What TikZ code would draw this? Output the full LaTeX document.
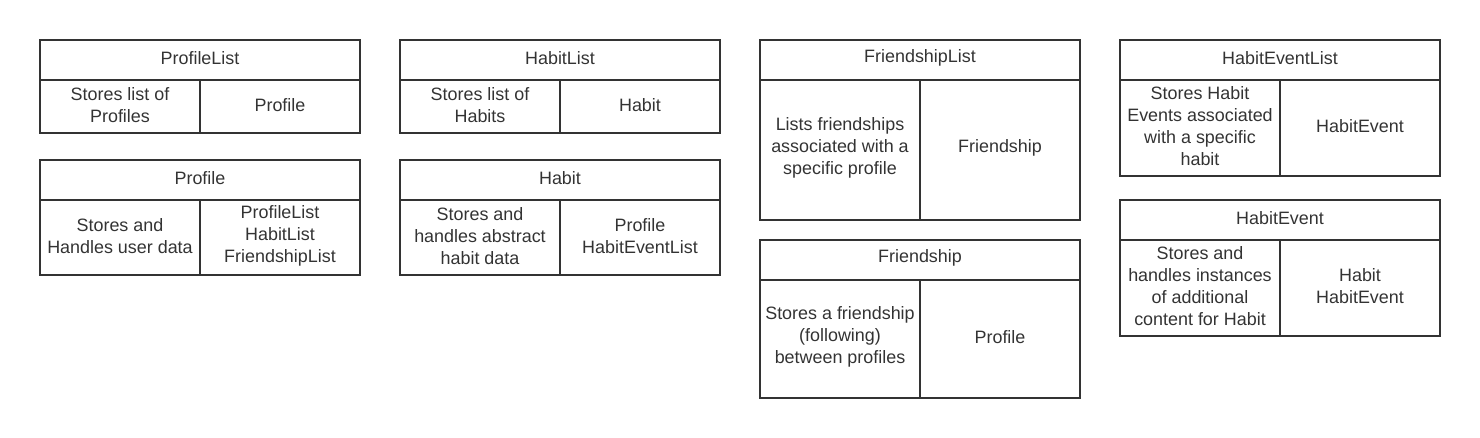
\documentclass[tikz,border=0pt]{standalone}
\usepackage{fontspec}
\setmainfont{Liberation Sans}
\usetikzlibrary{positioning}
\definecolor{ink}{HTML}{333333}

% one CRC card: name, left x, top y, header bottom y, bottom y, title, left cell, right cell
\newcommand{\crccard}[8]{%
  \draw[card] (#2,#3) rectangle ({#2+320},#5);
  \draw[card] (#2,#4) -- ({#2+320},#4);
  \draw[card] ({#2+160},#4) -- ({#2+160},#5);
  \node[title] (#1-title) at ({#2+160},{(#3+#4)/2}) {#6};
  \node[cell] (#1-resp) at ({#2+80},{(#4+#5)/2}) {#7};
  \node[cell] (#1-collab) at ({#2+240},{(#4+#5)/2}) {#8};
}

\begin{document}
\begin{tikzpicture}[
  x=0.02cm,y=-0.02cm,
  font=\fontsize{10.2}{12.5}\selectfont,
  card/.style={draw=ink,line width=1.1pt},
  title/.style={text=ink,inner sep=0pt,yshift=1pt},
  cell/.style={text=ink,align=center,inner sep=0pt,yshift=1pt}]
\path[use as bounding box] (0,0) rectangle (1480,438);
\crccard{profilelist}{40}{40}{80}{133}{ProfileList}
  {Stores list of\\Profiles}{Profile}
\crccard{profile}{40}{160}{200}{275}{Profile}
  {Stores and\\Handles user data}{ProfileList\\HabitList\\FriendshipList}
\crccard{habitlist}{400}{40}{80}{133}{HabitList}
  {Stores list of\\Habits}{Habit}
\crccard{habit}{400}{160}{200}{275}{Habit}
  {Stores and\\handles abstract\\habit data}{Profile\\HabitEventList}
\crccard{friendshiplist}{760}{40}{80}{220}{FriendshipList}
  {Lists friendships\\associated with a\\specific profile}{Friendship}
\crccard{friendship}{760}{240}{280}{398}{Friendship}
  {Stores a friendship\\(following)\\between profiles}{Profile}
\crccard{habiteventlist}{1120}{40}{80}{176}{HabitEventList}
  {Stores Habit\\Events associated\\with a specific\\habit}{HabitEvent}
\crccard{habitevent}{1120}{200}{240}{336}{HabitEvent}
  {Stores and\\handles instances\\of additional\\content for Habit}{Habit\\HabitEvent}
\end{tikzpicture}
\end{document}
